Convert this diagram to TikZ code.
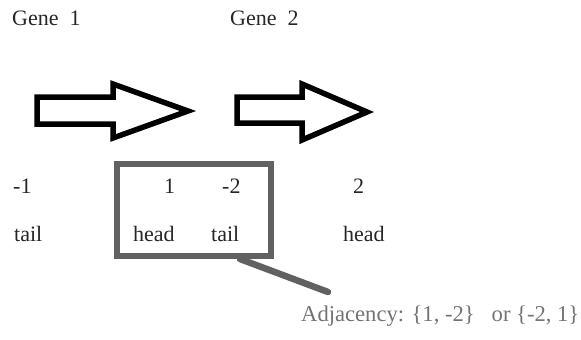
\documentclass[tikz,border=0pt]{standalone}
\usepackage{fontspec}
\setmainfont{Liberation Serif}
\begin{document}
\begin{tikzpicture}[x=1pt,y=-1pt,
  txt/.style={inner sep=0pt,anchor=base west,font=\fontsize{22}{26}\selectfont,text=black!85},
  gene/.style={draw=black,line width=5.5pt,line join=miter,fill=white},
  boxline/.style={draw=black!62,line width=6.5pt},
  adj/.style={txt,font=\fontsize{22.6}{26}\selectfont,text=black!55}]
\useasboundingbox (0,0) rectangle (581,340);
% arrows
\draw[gene] (37,97) -- (113,97) -- (113,84) -- (188,111) -- (113,138) -- (113,124) -- (37,124) -- cycle;
\draw[gene] (237,97) -- (302,97) -- (302,84) -- (367,112) -- (302,140) -- (302,123) -- (237,123) -- cycle;
% labels
\node[txt] (g1) at (12,25) {Gene\ \ 1};
\node[txt] (g2) at (230,25) {Gene\ \ 2};
\node[txt] (n1) at (13,193) {-1};
\node[txt] (n2) at (164,193) {1};
\node[txt] (n3) at (222,193) {-2};
\node[txt] (n4) at (353,193) {2};
\node[txt] (t1) at (14,241) {tail};
\node[txt] (h1) at (133,241) {head};
\node[txt] (t2) at (211,241) {tail};
\node[txt] (h2) at (343,241) {head};
% box
\draw[boxline,line cap=round] (117,164) rectangle (271,256);
\coordinate (c1) at (240,259);
\coordinate (c2) at (328,292);
\draw[boxline,line cap=round] (c1) -- (c2);
\node[adj] (adj) at (301,321) {Adjacency: \{1, -2\}\ \ \ or \{-2, 1\}};
\end{tikzpicture}
\end{document}
